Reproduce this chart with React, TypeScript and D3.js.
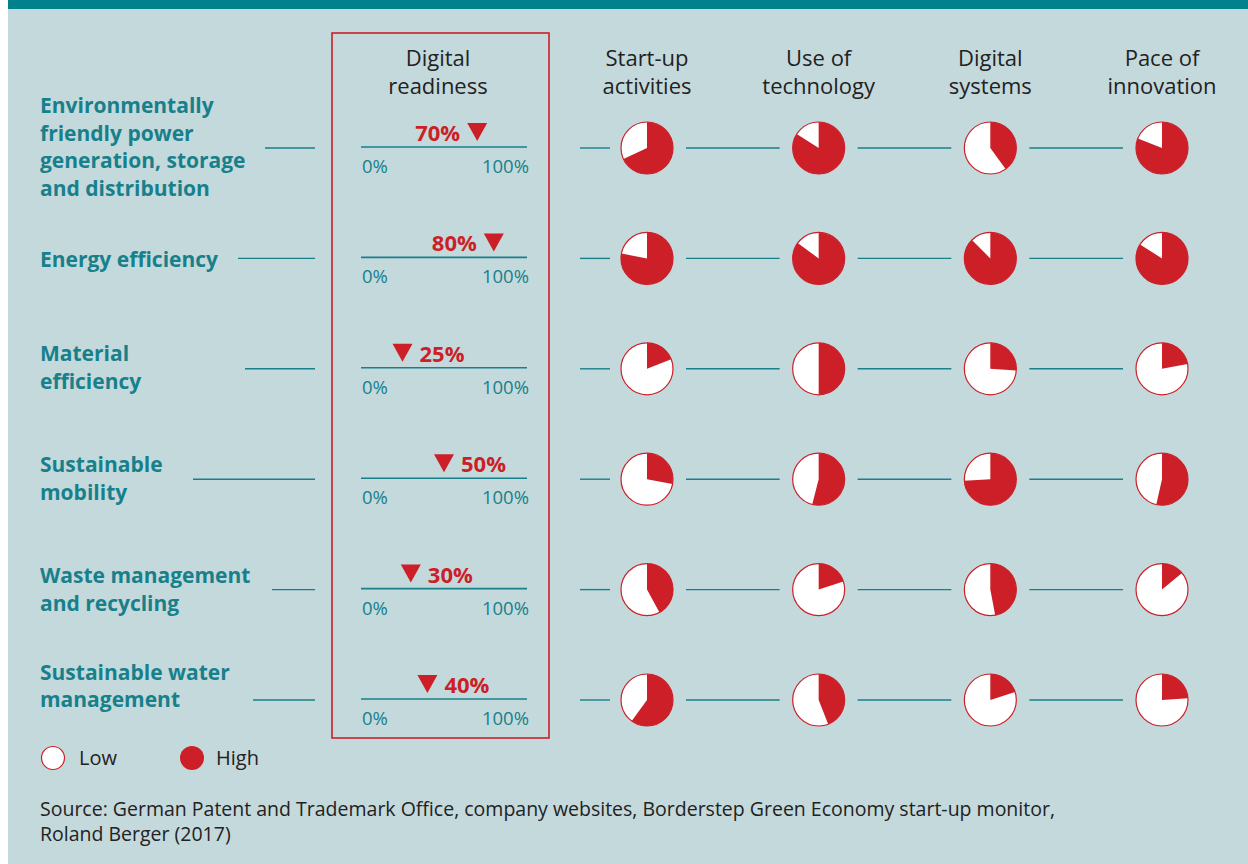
import React from 'react';
import * as d3 from 'd3';

// categories (row labels, line breaks as in the picture)
const categories = [
  'Environmentally|friendly power|generation, storage|and distribution',
  'Energy efficiency',
  'Material|efficiency',
  'Sustainable|mobility',
  'Waste management|and recycling',
  'Sustainable water|management',
];

// digital readiness, percent
const readiness = [70, 80, 25, 50, 30, 40];

const columns = ['Start-up|activities', 'Use of|technology', 'Digital|systems', 'Pace of|innovation'];

// share "high" per column, one list per column
const startUp = [0.68, 0.78, 0.19, 0.28, 0.42, 0.6];
const useOfTech = [0.84, 0.85, 0.5, 0.54, 0.2, 0.44];
const digitalSystems = [0.4, 0.875, 0.26, 0.74, 0.47, 0.2];
const paceOfInnovation = [0.81, 0.84, 0.22, 0.535, 0.14, 0.24];

const scaleTicks = ['0%', '100%'];
const legendItems = ['Low', 'High'];
const sourceLines = [
  'Source: German Patent and Trademark Office, company websites, Borderstep Green Economy start-up monitor,',
  'Roland Berger (2017)',
];

// layout: where the left connector starts, and label nudges, per row
const connectorStart = [265, 238, 245, 193, 272, 253];
const labelShift = [-1, 1, -1, -1, 0, -14];

const W = 1248;
const H = 864;
const BG = '#c4d9dc';
const TEAL = '#00818b';
const TEXT_TEAL = '#17808b';
const RED = '#cc1f27';
const DARK = '#222';
const FONT = '"Open Sans", "Noto Sans", sans-serif';

const App = () => {
  const pieValues = [startUp, useOfTech, digitalSystems, paceOfInnovation];
  const y = d3.scalePoint<number>().domain(d3.range(categories.length)).range([148, 700]);
  const xCol = d3.scalePoint<number>().domain(d3.range(columns.length)).range([647, 1162]);
  const xScale = d3.scaleLinear().domain([0, 100]).range([361, 527]);
  const r = 26;
  const pie = d3.pie<number>().sort(null).value(d => d);
  const arc = d3.arc<d3.PieArcDatum<number>>().innerRadius(0).outerRadius(r);
  const lineH = 27.7;

  return (
    <svg
      width={W}
      height={H}
      style={{ position: 'absolute', left: 0, top: 0, fontFamily: FONT }}
    >
      <rect x={0} y={0} width={W} height={H} fill="#fff" />
      <rect x={8} y={0} width={W - 8} height={H} fill={BG} />
      <rect x={8} y={0} width={W - 8} height={9} fill={TEAL} />

      {/* digital readiness frame */}
      <rect x={332} y={33} width={217} height={705} fill="none" stroke={RED} strokeWidth={1.6} />
      {['Digital', 'readiness'].map((t, i) => (
        <text key={t} x={438} y={66 + i * 28} textAnchor="middle" fontSize={22} fill={DARK}>
          {t}
        </text>
      ))}

      {columns.map((c, ci) =>
        c.split('|').map((t, i) => (
          <text
            key={c + i}
            x={xCol(ci)}
            y={66 + i * 28}
            textAnchor="middle"
            fontSize={22}
            fill={DARK}
          >
            {t}
          </text>
        ))
      )}

      {categories.map((cat, ri) => {
        const cy = y(ri) as number;
        const lines = cat.split('|');
        const top = cy - ((lines.length - 1) * lineH) / 2 + labelShift[ri];
        const v = readiness[ri];
        const tx = xScale(v);
        const labelLeft = v >= 60;
        return (
          <g key={cat}>
            {lines.map((t, i) => (
              <text
                key={t}
                x={40}
                y={top + i * lineH + 7.5}
                fontSize={21}
                fontWeight="bold"
                fill={TEXT_TEAL}
              >
                {t}
              </text>
            ))}
            <line x1={connectorStart[ri]} x2={315} y1={cy} y2={cy} stroke={TEXT_TEAL} strokeWidth={1.4} />

            {/* readiness scale */}
            <line x1={xScale(0)} x2={xScale(100)} y1={cy - 1} y2={cy - 1} stroke={TEXT_TEAL} strokeWidth={1.6} />
            <text x={xScale(0) + 1} y={cy + 25} fontSize={18.5} fill={TEXT_TEAL}>
              {scaleTicks[0]}
            </text>
            <text x={xScale(100) + 2} y={cy + 25} fontSize={18.5} fill={TEXT_TEAL} textAnchor="end">
              {scaleTicks[1]}
            </text>
            <path
              d={`M${tx - 10},${cy - 25}L${tx + 10},${cy - 25}L${tx},${cy - 7}Z`}
              fill={RED}
            />
            <text
              x={labelLeft ? tx - 17 : tx + 17}
              y={cy - 7}
              fontSize={22}
              fontWeight="bold"
              fill={RED}
              textAnchor={labelLeft ? 'end' : 'start'}
            >
              {v}%
            </text>

            {/* connectors between pies */}
            <line x1={580} x2={xCol(0)! - r - 11} y1={cy} y2={cy} stroke={TEXT_TEAL} strokeWidth={1.4} />
            {d3.range(columns.length - 1).map(ci => (
              <line
                key={ci}
                x1={xCol(ci)! + r + 13}
                x2={xCol(ci + 1)! - r - 13}
                y1={cy}
                y2={cy}
                stroke={TEXT_TEAL}
                strokeWidth={1.4}
              />
            ))}

            {pieValues.map((vals, ci) => {
              const slices = pie([vals[ri], 1 - vals[ri]]);
              return (
                <g key={ci} transform={`translate(${xCol(ci)},${cy})`}>
                  <circle r={r} fill="#fff" stroke={RED} strokeWidth={1.2} />
                  <path d={arc(slices[0]) || ''} fill={RED} />
                </g>
              );
            })}
          </g>
        );
      })}

      {/* legend */}
      <circle cx={53} cy={758} r={11.5} fill="#fff" stroke={RED} strokeWidth={1.2} />
      <text x={79} y={765} fontSize={20} fill={DARK}>
        {legendItems[0]}
      </text>
      <circle cx={192} cy={758} r={12} fill={RED} />
      <text x={216} y={765} fontSize={20} fill={DARK}>
        {legendItems[1]}
      </text>

      {sourceLines.map((t, i) => (
        <text key={i} x={40} y={816 + i * 25} fontSize={19.5} fill={DARK}>
          {t}
        </text>
      ))}
    </svg>
  );
};

export default App;
